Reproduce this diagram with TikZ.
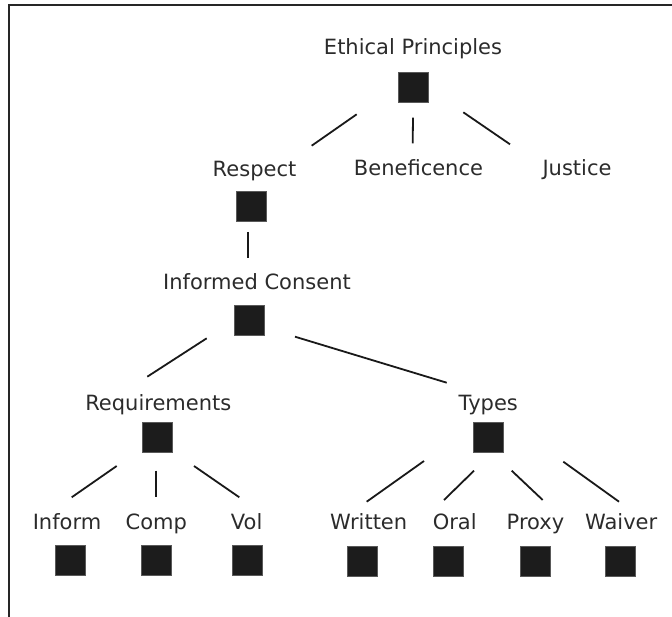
\documentclass[tikz,border=0pt]{standalone}
\usepackage{fontspec}
\setmainfont{DejaVu Sans}
\usetikzlibrary{calc}
\definecolor{boxfill}{HTML}{1C1C1C}
\definecolor{txtcol}{HTML}{2B2B2B}
\def\twigline{\draw[line width=1.8pt, draw=black!90]}

\begin{document}
\begin{tikzpicture}[x=1pt,y=-1pt,
  lbl/.style={anchor=base, inner sep=0pt, text=txtcol, font=\fontsize{21}{25}\selectfont},
  sq/.style={draw=gray!70!black, fill=boxfill, minimum size=30pt, inner sep=0pt, line width=0.6pt}]
\useasboundingbox (0,0) rectangle (672,617);
\draw[line width=1.6pt, color=black!85] (9,617) -- (9,5) -- (672,5);

\node (ept) at (413,55) [lbl] {Ethical Principles};
\node (epb) at (413,87) [sq] {};
\node (respt) at (254.5,177) [lbl] {Respect};
\node (respb) at (251,206) [sq] {};
\node (bent) at (418.5,176) [lbl] {Beneficence};
\node (just) at (577,176) [lbl] {Justice};
\node (ict) at (257,290) [lbl] {Informed Consent};
\node (icb) at (249.3,320) [sq] {};
\node (reqt) at (158.3,410) [lbl] {Requirements};
\node (reqb) at (157,437.7) [sq] {};
\node (typt) at (488.3,410) [lbl] {Types};
\node (typb) at (488.3,437.7) [sq] {};
\node (inft) at (67,529) [lbl] {Inform};
\node (infb) at (70.7,560.7) [sq] {};
\node (compt) at (156.3,529) [lbl] {Comp};
\node (compb) at (156.7,560.7) [sq] {};
\node (volt) at (246.7,529) [lbl] {Vol};
\node (volb) at (247.3,560.7) [sq] {};
\node (writ) at (368.7,529) [lbl] {Written};
\node (writb) at (362.5,561) [sq] {};
\node (oralt) at (454.7,529) [lbl] {Oral};
\node (oralb) at (448.3,561) [sq] {};
\node (proxt) at (535.5,529) [lbl] {Proxy};
\node (proxb) at (535.3,561) [sq] {};
\node (waivt) at (621.2,529) [lbl] {Waiver};
\node (waivb) at (620,561) [sq] {};

\twigline ($(epb)+(-56.3,27.3)$) -- ($(respt.base)+(57.2,-31.3)$);
\twigline ($(epb)+(0,30.7)$) -- ($(bent.base)+(-5.8,-32.7)$);
\twigline ($(epb)+(50.3,25.3)$) -- ($(just.base)+(-67,-31.7)$);
\twigline ($(respb)+(-2.7,26)$) -- ($(ict.base)+(-8.7,-32)$);
\twigline ($(icb)+(-42.6,18.3)$) -- ($(reqt.base)+(-11,-33.3)$);
\twigline ($(icb)+(45.7,16.7)$) -- ($(typt.base)+(-41.6,-27.3)$);
\twigline ($(reqb)+(-40.3,28.3)$) -- ($(inft.base)+(4.7,-31.7)$);
\twigline ($(reqb)+(-1,33)$) -- ($(compt.base)+(-0.3,-32.3)$);
\twigline ($(reqb)+(37,28.3)$) -- ($(volt.base)+(-7.4,-31.7)$);
\twigline ($(typb)+(-64.3,23.3)$) -- ($(writ.base)+(-2,-27.3)$);
\twigline ($(typb)+(-14.3,33)$) -- ($(oralt.base)+(-10.7,-29)$);
\twigline ($(typb)+(23.4,33)$) -- ($(proxt.base)+(7.2,-29)$);
\twigline ($(typb)+(75,24)$) -- ($(waivt.base)+(-2.2,-27.3)$);
\end{tikzpicture}
\end{document}
